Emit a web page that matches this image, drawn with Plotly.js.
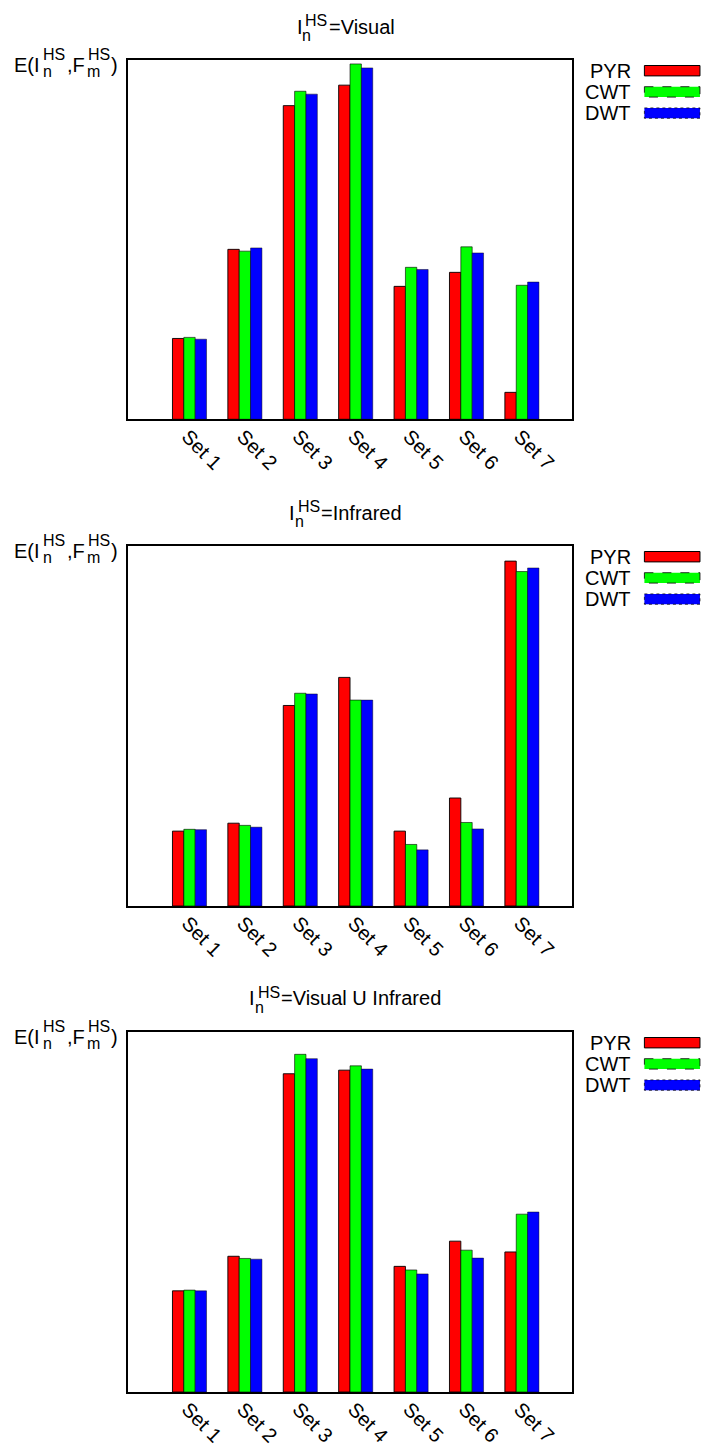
<!DOCTYPE html>
<html>
<head>
<meta charset="utf-8">
<script src="https://cdn.plot.ly/plotly-3.0.1.min.js"></script>
<style>
  html, body { margin: 0; padding: 0; background: #fff; }
  #chart { width: 707px; height: 1449px; }
</style>
</head>
<body>
<div id="chart"></div>
<script>
// ---------------- data ----------------
const sets = ['Set 1', 'Set 2', 'Set 3', 'Set 4', 'Set 5', 'Set 6', 'Set 7'];
const methods = ['PYR', 'CWT', 'DWT'];
const panelTitles = ['=Visual', '=Infrared', '=Visual U Infrared'];

const visualPYR = [22.5, 47.3, 87.3, 93.0, 37.0, 40.9, 7.5];
const visualCWT = [22.8, 46.8, 91.3, 98.9, 42.3, 48.0, 37.3];
const visualDWT = [22.3, 47.7, 90.5, 97.8, 41.7, 46.3, 38.2];

const infraredPYR = [20.8, 23.0, 55.7, 63.5, 20.8, 30.0, 95.8];
const infraredCWT = [21.3, 22.4, 59.1, 57.2, 17.1, 23.2, 92.9];
const infraredDWT = [21.2, 21.9, 58.9, 57.2, 15.6, 21.4, 93.9];

const unionPYR = [28.1, 37.7, 88.4, 89.4, 34.9, 41.9, 38.9];
const unionCWT = [28.3, 37.1, 93.8, 90.6, 33.9, 39.4, 49.4];
const unionDWT = [28.1, 36.9, 92.6, 89.7, 32.8, 37.2, 50.0];

// ---------------- styling ----------------
const FONT = 'Liberation Sans, Arial, Helvetica, sans-serif';
const colors = ['#ff0000', '#00ff00', '#0000ff'];
const outline = ['rgba(0,0,0,0.9)', 'rgba(0,0,0,0.6)', 'rgba(0,0,0,0.45)'];
const swatchDash = ['solid', 'dash', 'dot'];
const swatchLine = ['#000', 'rgba(0,0,0,0.8)', 'rgba(0,0,0,0.7)'];

const W = 707, H = 1449;
const L = 128.3, R = 571.7;           // plot left/right in px
const panelTops = [60, 546, 1032];
const panelBottoms = [419.3, 906, 1392];
const mT = 60, mB = H - 1392;
const paperH = H - mT - mB, paperW = R - L;
const px = x => (x - L) / paperW;
const py = y => (1392 - y) / paperH;

const panelData = [
  [visualPYR, visualCWT, visualDWT],
  [infraredPYR, infraredCWT, infraredDWT],
  [unionPYR, unionCWT, unionDWT]
];

const canvas = document.createElement('canvas');
const ctx = canvas.getContext('2d');
function textW(t, size) { ctx.font = size + "px 'Liberation Sans', Arial"; return ctx.measureText(t).width; }

const traces = [];
const annotations = [];
const shapes = [];
const layout = {
  width: W, height: H,
  margin: { l: L, r: W - R, t: mT, b: mB, pad: 0 },
  paper_bgcolor: '#fff', plot_bgcolor: '#fff',
  barmode: 'group', bargap: 0.385, bargroupgap: 0,
  showlegend: false,
  font: { family: FONT, size: 20, color: '#000' }
};

function piece(text, leftPx, centerPy, size) {
  annotations.push({
    xref: 'paper', yref: 'paper', x: px(leftPx), y: py(centerPy),
    xanchor: 'left', yanchor: 'middle', showarrow: false, borderpad: 0,
    text: text, font: { family: FONT, size: size, color: '#000' }
  });
}

panelData.forEach((series, p) => {
  const sfx = p === 0 ? '' : String(p + 1);
  const T = panelTops[p];
  series.forEach((vals, k) => {
    traces.push({
      type: 'bar', name: methods[k], x: sets, y: vals,
      xaxis: 'x' + sfx, yaxis: 'y' + sfx,
      marker: { color: colors[k], line: { color: outline[k], width: 1 } },
      hoverinfo: 'x+y+name'
    });
  });
  layout['xaxis' + sfx] = {
    type: 'category', range: [-1.11, 6.904], anchor: 'y' + sfx,
    showline: true, mirror: true, linecolor: '#000', linewidth: 1.5,
    showgrid: false, zeroline: false, ticks: '', tickangle: 45,
    ticklabelstandoff: -4, ticklabelshift: -2,
    tickfont: { family: FONT, size: 20, color: '#000' }, fixedrange: true
  };
  layout['yaxis' + sfx] = {
    domain: [py(panelBottoms[p]), py(T)], anchor: 'x' + sfx, range: [0, 100],
    showline: true, mirror: true, linecolor: '#000', linewidth: 1.5,
    showgrid: false, zeroline: false, showticklabels: false, ticks: '', fixedrange: true
  };

  // title  I_n^HS = ...
  const rest = panelTitles[p];
  const total = 33 + textW(rest, 20);
  const tl = 346.5 - total / 2 - 1.5;
  piece('I', tl, T - 33.5, 20);
  piece('HS', tl + 8.5, T - 39.5, 16);
  piece('n', tl + 5.5, T - 25, 16);
  piece(rest, tl + 32, T - 33.5, 20);

  // y label  E(I_n^HS,F_m^HS)
  piece('E(I', 13.5, T + 4.5, 20);
  piece('HS', 42, T - 5.5, 16);
  piece('n', 42, T + 11.2, 16);
  piece(',F', 66, T + 4.5, 20);
  piece('HS', 87, T - 5.5, 16);
  piece('m', 86, T + 11.2, 16);
  piece(')', 110.5, T + 4.5, 20);

  // legend (text then key)
  methods.forEach((m, k) => {
    const cy = T + 10.7 + k * 21.2;
    annotations.push({
      xref: 'paper', yref: 'paper', x: px(632), y: py(cy),
      xanchor: 'right', yanchor: 'middle', showarrow: false, borderpad: 0,
      text: m, font: { family: FONT, size: 20, color: '#000' }
    });
    shapes.push({
      type: 'rect', xref: 'paper', yref: 'paper',
      x0: px(644), x1: px(699.5), y0: py(cy - 5.2), y1: py(cy + 5.2),
      fillcolor: colors[k], line: { color: swatchLine[k], width: 1, dash: swatchDash[k] }
    });
  });
});

layout.annotations = annotations;
layout.shapes = shapes;

Plotly.newPlot('chart', traces, layout, { displayModeBar: false, responsive: false });
</script>
</body>
</html>
